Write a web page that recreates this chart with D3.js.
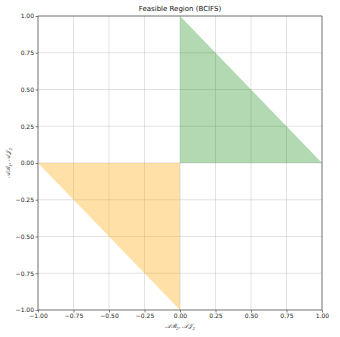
<!DOCTYPE html>
<html><head><meta charset="utf-8">
<script src="https://cdn.jsdelivr.net/npm/d3@7/dist/d3.min.js"></script>
<style>body{margin:0;background:#fff}svg{display:block}</style>
</head><body>
<svg id="c" width="340" height="337"></svg>
<script>
const title = "Feasible Region (BCIFS)";
const xTicks = [-1.00,-0.75,-0.50,-0.25,0.00,0.25,0.50,0.75,1.00];
const yTicks = [-1.00,-0.75,-0.50,-0.25,0.00,0.25,0.50,0.75,1.00];
const greenRegion = [[0,0],[0,1],[1,0]];
const orangeRegion = [[0,0],[-1,0],[0,-1]];

const svg = d3.select("#c");
const L=38,R=322,T=16,B=310;
const x = d3.scaleLinear().domain([-1,1]).range([L,R]);
const y = d3.scaleLinear().domain([-1,1]).range([B,T]);
const fmt = d3.format(".2f");
const f = v => fmt(v).replace("-","\u2212");

// grid
svg.append("g").selectAll("line").data(xTicks).join("line")
  .attr("x1",d=>x(d)).attr("x2",d=>x(d)).attr("y1",T).attr("y2",B)
  .attr("stroke","#b0b0b0").attr("stroke-width",0.6).attr("stroke-opacity",0.6);
svg.append("g").selectAll("line").data(yTicks).join("line")
  .attr("y1",d=>y(d)).attr("y2",d=>y(d)).attr("x1",L).attr("x2",R)
  .attr("stroke","#b0b0b0").attr("stroke-width",0.6).attr("stroke-opacity",0.6);

const line = d3.line().x(d=>x(d[0])).y(d=>y(d[1]));
svg.append("path").attr("d",line(greenRegion)+"Z").attr("fill","green").attr("fill-opacity",0.3);
svg.append("path").attr("d",line(orangeRegion)+"Z").attr("fill","orange").attr("fill-opacity",0.35);

// axes
const xa = svg.append("g").attr("transform",`translate(0,${B})`)
  .call(d3.axisBottom(x).tickValues(xTicks).tickFormat(f).tickSize(2.5).tickPadding(1.5));
const ya = svg.append("g").attr("transform",`translate(${L},0)`)
  .call(d3.axisLeft(y).tickValues(yTicks).tickFormat(f).tickSize(2.5).tickPadding(1.5));
[xa,ya].forEach(a=>{
  a.selectAll("text").attr("font-family","DejaVu Sans").attr("font-size",6).attr("fill","#222");
  a.selectAll("line").attr("stroke","#333").attr("stroke-width",0.6);
  a.select(".domain").remove();
});
svg.append("rect").attr("x",L).attr("y",T).attr("width",R-L).attr("height",B-T)
  .attr("fill","none").attr("stroke","#333").attr("stroke-width",0.6);

svg.append("text").attr("x",(L+R)/2).attr("y",11).attr("text-anchor","middle")
  .attr("font-family","DejaVu Sans").attr("font-size",7).attr("fill","#111").text(title);

const xl = svg.append("text").attr("x",(L+R)/2).attr("y",328).attr("text-anchor","middle")
  .attr("font-family","DejaVu Serif").attr("font-style","italic").attr("font-size",6).attr("fill","#333");
xl.append("tspan").text("\u{1D49C}\u212C");
xl.append("tspan").text("2").attr("font-size",4).attr("dy",1.5);
xl.append("tspan").text(", \u{1D49C}\u{1D4A5}").attr("dy",-1.5);
xl.append("tspan").text("2").attr("font-size",4).attr("dy",1.5);

const yl = svg.append("text").attr("transform",`translate(10,${(T+B)/2}) rotate(-90)`).attr("text-anchor","middle")
  .attr("font-family","DejaVu Serif").attr("font-style","italic").attr("font-size",6).attr("fill","#333");
yl.append("tspan").text("\u{1D49C}\u212C");
yl.append("tspan").text("1").attr("font-size",4).attr("dy",1.5);
yl.append("tspan").text(", \u{1D49C}\u{1D4A5}").attr("dy",-1.5);
yl.append("tspan").text("2").attr("font-size",4).attr("dy",1.5);
</script>
</body></html>
